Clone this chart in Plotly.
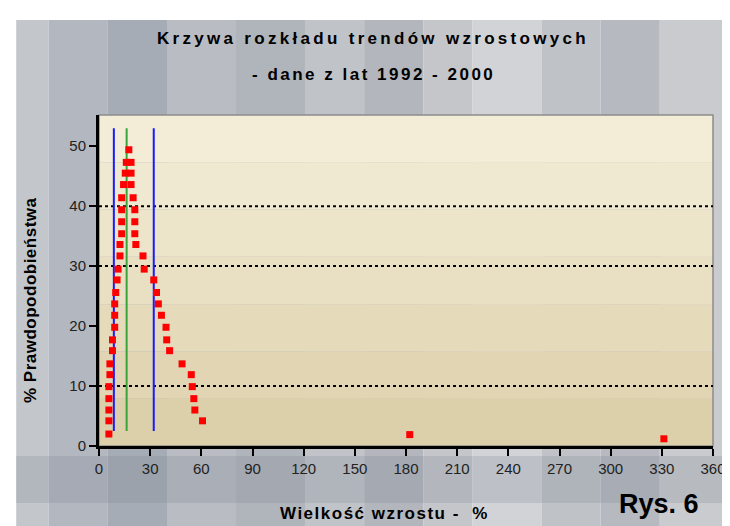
import plotly.graph_objects as go

# wielkosc wzrostu (%) i prawdopodobienstwo (%)
wzrost = [5.8, 5.8, 5.8, 5.8, 5.8, 6.4, 6.4, 7.9, 7.9, 9.2, 9.2, 9.2, 9.8, 10.6, 11.2,
          12.3, 12.3, 13.3, 13.3, 13.3, 13.3, 14.4, 15.4, 16.0, 17.5,
          18.8, 18.8, 18.8, 20.0, 21.0, 21.0, 21.0, 21.6, 25.8, 26.5, 32.1, 33.7, 34.8,
          36.6, 39.3, 39.7, 41.4, 48.7, 54.1, 54.7, 55.6, 56.2, 60.7, 182.2, 331.2]
prawd = [2.0, 4.2, 6.0, 7.9, 9.9, 11.9, 13.7, 15.9, 17.7, 19.8, 21.8, 23.7, 25.6, 27.7, 29.5,
         31.7, 33.6, 35.4, 37.4, 39.4, 41.4, 43.6, 45.5, 47.3, 49.4,
         47.3, 45.5, 43.6, 41.4, 39.4, 37.4, 35.4, 33.6, 31.7, 29.5, 27.7, 25.6, 23.7,
         21.8, 19.8, 17.7, 15.9, 13.7, 11.9, 9.9, 7.9, 6.0, 4.2, 1.9, 1.2]

# linie pionowe (granice i srodek rozkladu)
linie_x = [8.7, 16.2, 32.1]
linie_kolor = ["#1a1aff", "#3aa33a", "#1a1aff"]
linie_od, linie_do = 2.5, 53.0

x_ticks = list(range(0, 361, 30))
y_ticks = [0, 10, 20, 30, 40, 50]
siatka_y = [10, 30, 40]

FONT = "Liberation Sans, Arial, sans-serif"

def rozstrzel(t, px):
    return '<span style="letter-spacing:%spx"><b>%s</b></span>' % (px, t)

fig = go.Figure()

for lx, kol in zip(linie_x, linie_kolor):
    fig.add_trace(go.Scatter(x=[lx, lx], y=[linie_od, linie_do], mode="lines",
                             line=dict(color=kol, width=2), hoverinfo="skip"))

fig.add_trace(go.Scatter(x=wzrost, y=prawd, mode="markers",
                         marker=dict(symbol="square", size=7, color="#ff0000",
                                     line=dict(width=0))))

# tlo - metaliczne pasy
shapes = []
L, R, T, B = 91, 714, 107, 438
def px_x(p):
    return (p - L) / (R - L)
def px_y(p):
    return (B - p) / (B - T)

shapes.append(dict(type="rect", xref="paper", yref="paper", x0=px_x(0), x1=px_x(730),
                   y0=px_y(526), y1=px_y(0), fillcolor="white", line_width=0, layer="below"))
pasy = [(7, 40, "#c3c6cb"), (40, 100, "#b3b7bf"), (100, 160, "#a6acb5"), (160, 230, "#b9bcc3"),
        (230, 300, "#b0b4bb"), (300, 360, "#c0c3c8"), (360, 420, "#b3b7bd"), (420, 470, "#c4c6ca"),
        (470, 540, "#d1d3d6"), (540, 600, "#bfc2c7"), (600, 660, "#b6b9bf"), (660, 730, "#c9cbce")]
for a, b, c in pasy:
    shapes.append(dict(type="rect", xref="paper", yref="paper", x0=px_x(a), x1=px_x(b),
                       y0=px_y(526), y1=px_y(12), fillcolor=c, line_width=0, layer="below"))
# ciemniejszy pas pod osia X
shapes.append(dict(type="rect", xref="paper", yref="paper", x0=px_x(7), x1=px_x(730),
                   y0=px_y(495), y1=px_y(448), fillcolor="rgba(120,128,142,0.22)",
                   line_width=0, layer="below"))
# tlo obszaru wykresu - kremowy gradient
krem = ["#f3edd8", "#f0e9d1", "#ede5ca", "#e9e0c3", "#e5dbbb", "#e1d5b3", "#dcd0ab"]
n = len(krem)
for i, c in enumerate(krem):
    shapes.append(dict(type="rect", xref="paper", yref="paper", x0=0, x1=1,
                       y0=1 - (i + 1) / n, y1=1 - i / n, fillcolor=c, line_width=0, layer="below"))
shapes.append(dict(type="rect", xref="paper", yref="paper", x0=0, x1=1, y0=0, y1=1,
                   line=dict(color="#8c8c8c", width=1.5), layer="below"))
for g in siatka_y:
    shapes.append(dict(type="line", xref="paper", yref="y", x0=0, x1=1, y0=g, y1=g,
                       line=dict(color="black", width=2, dash="dot"), layer="below"))

def napis(tekst, px, py, rozmiar, odstep, kat=0):
    return dict(text=rozstrzel(tekst, odstep), x=px_x(px), y=px_y(py), textangle=kat,
                xref="paper", yref="paper", xanchor="center", yanchor="middle",
                showarrow=False, font=dict(size=rozmiar))

fig.update_layout(
    width=730, height=526,
    margin=dict(l=L, r=730 - R, t=T, b=526 - B),
    paper_bgcolor="white", plot_bgcolor="#ebe2c5",
    showlegend=False,
    shapes=shapes,
    font=dict(family=FONT, size=15, color="black"),
    xaxis=dict(range=[0, 360], tickvals=x_ticks, showgrid=False, zeroline=False,
               showline=True, linecolor="black", linewidth=3, ticks="outside",
               ticklen=7, tickwidth=2, tickcolor="black", tickfont=dict(size=15, color="#222")),
    yaxis=dict(range=[0, 55.2], tickvals=y_ticks, showgrid=False, zeroline=False,
               showline=True, linecolor="black", linewidth=3, ticks="outside",
               ticklen=7, tickwidth=2, tickcolor="black", tickfont=dict(size=15, color="#222")),
    annotations=[
        napis("Krzywa rozkładu trendów wzrostowych", 369, 31, 17, 3.3),
        napis("- dane z lat 1992 - 2000", 370, 66, 17, 2.5),
        napis("% Prawdopodobieństwa", 21, 292, 17, 0.5, -90),
        napis("Wielkość wzrostu -  %", 381, 505, 17, 1.5),
        napis("Rys. 6", 659, 496, 27, 0),
    ],
)

fig.write_html("out.html")
